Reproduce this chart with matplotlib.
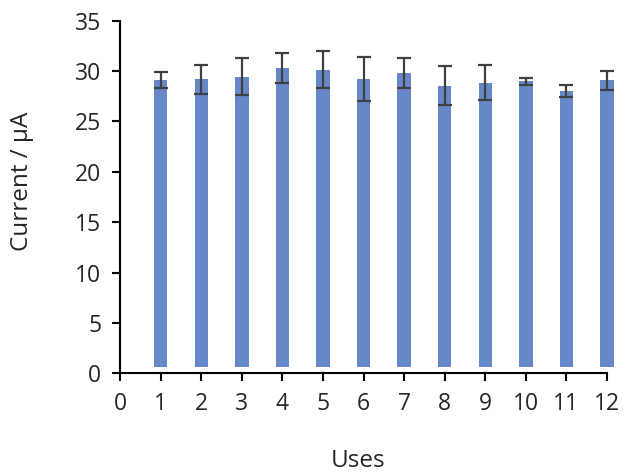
import matplotlib
matplotlib.use("Agg")
import matplotlib.pyplot as plt
import numpy as np

# data
uses = [1, 2, 3, 4, 5, 6, 7, 8, 9, 10, 11, 12]
current = [29.1, 29.2, 29.45, 30.35, 30.15, 29.2, 29.8, 28.55, 28.85, 29.0, 28.05, 29.1]
error = [0.8, 1.45, 1.85, 1.5, 1.85, 2.2, 1.5, 1.95, 1.75, 0.35, 0.6, 0.95]
bar_base = 0.65

plt.rcParams['font.family'] = ['Open Sans', 'DejaVu Sans']

fig = plt.figure(figsize=(6.29, 4.73), dpi=100)
ax = fig.add_axes([0.191, 0.211, 0.774, 0.745])

heights = np.array(current) - bar_base
ax.bar(uses, heights, bottom=bar_base, width=0.33, color='#6687C8', clip_on=False)
eb = ax.errorbar(uses, current, yerr=error, fmt='none', ecolor='#404040',
                 elinewidth=1.6, capsize=5, capthick=1.6)
for part in eb.lines[1] + eb.lines[2]:
    part.set_clip_on(False)

ax.set_xlim(0, 12)
ax.set_ylim(0, 35)
ax.set_xticks(range(0, 13))
ax.set_yticks(range(0, 36, 5))

for side in ['top', 'right']:
    ax.spines[side].set_visible(False)
for side in ['left', 'bottom']:
    ax.spines[side].set_linewidth(1.5)
    ax.spines[side].set_clip_on(False)

ax.tick_params(axis='both', labelsize=16.5, width=1.5, length=5.5, colors='black')
ax.tick_params(axis='x', pad=8)
ax.tick_params(axis='y', pad=8)
for lab in ax.get_xticklabels() + ax.get_yticklabels():
    lab.set_color('#262626')

fig.text(0.569, 0.025, 'Uses', ha='center', va='center', fontsize=17.5,
         color='#262626')
fig.text(0.035, 0.617, 'Current / µA', ha='center', va='center',
         rotation=90, fontsize=17.5, color='#262626')

fig.savefig('out.png', dpi=100)
